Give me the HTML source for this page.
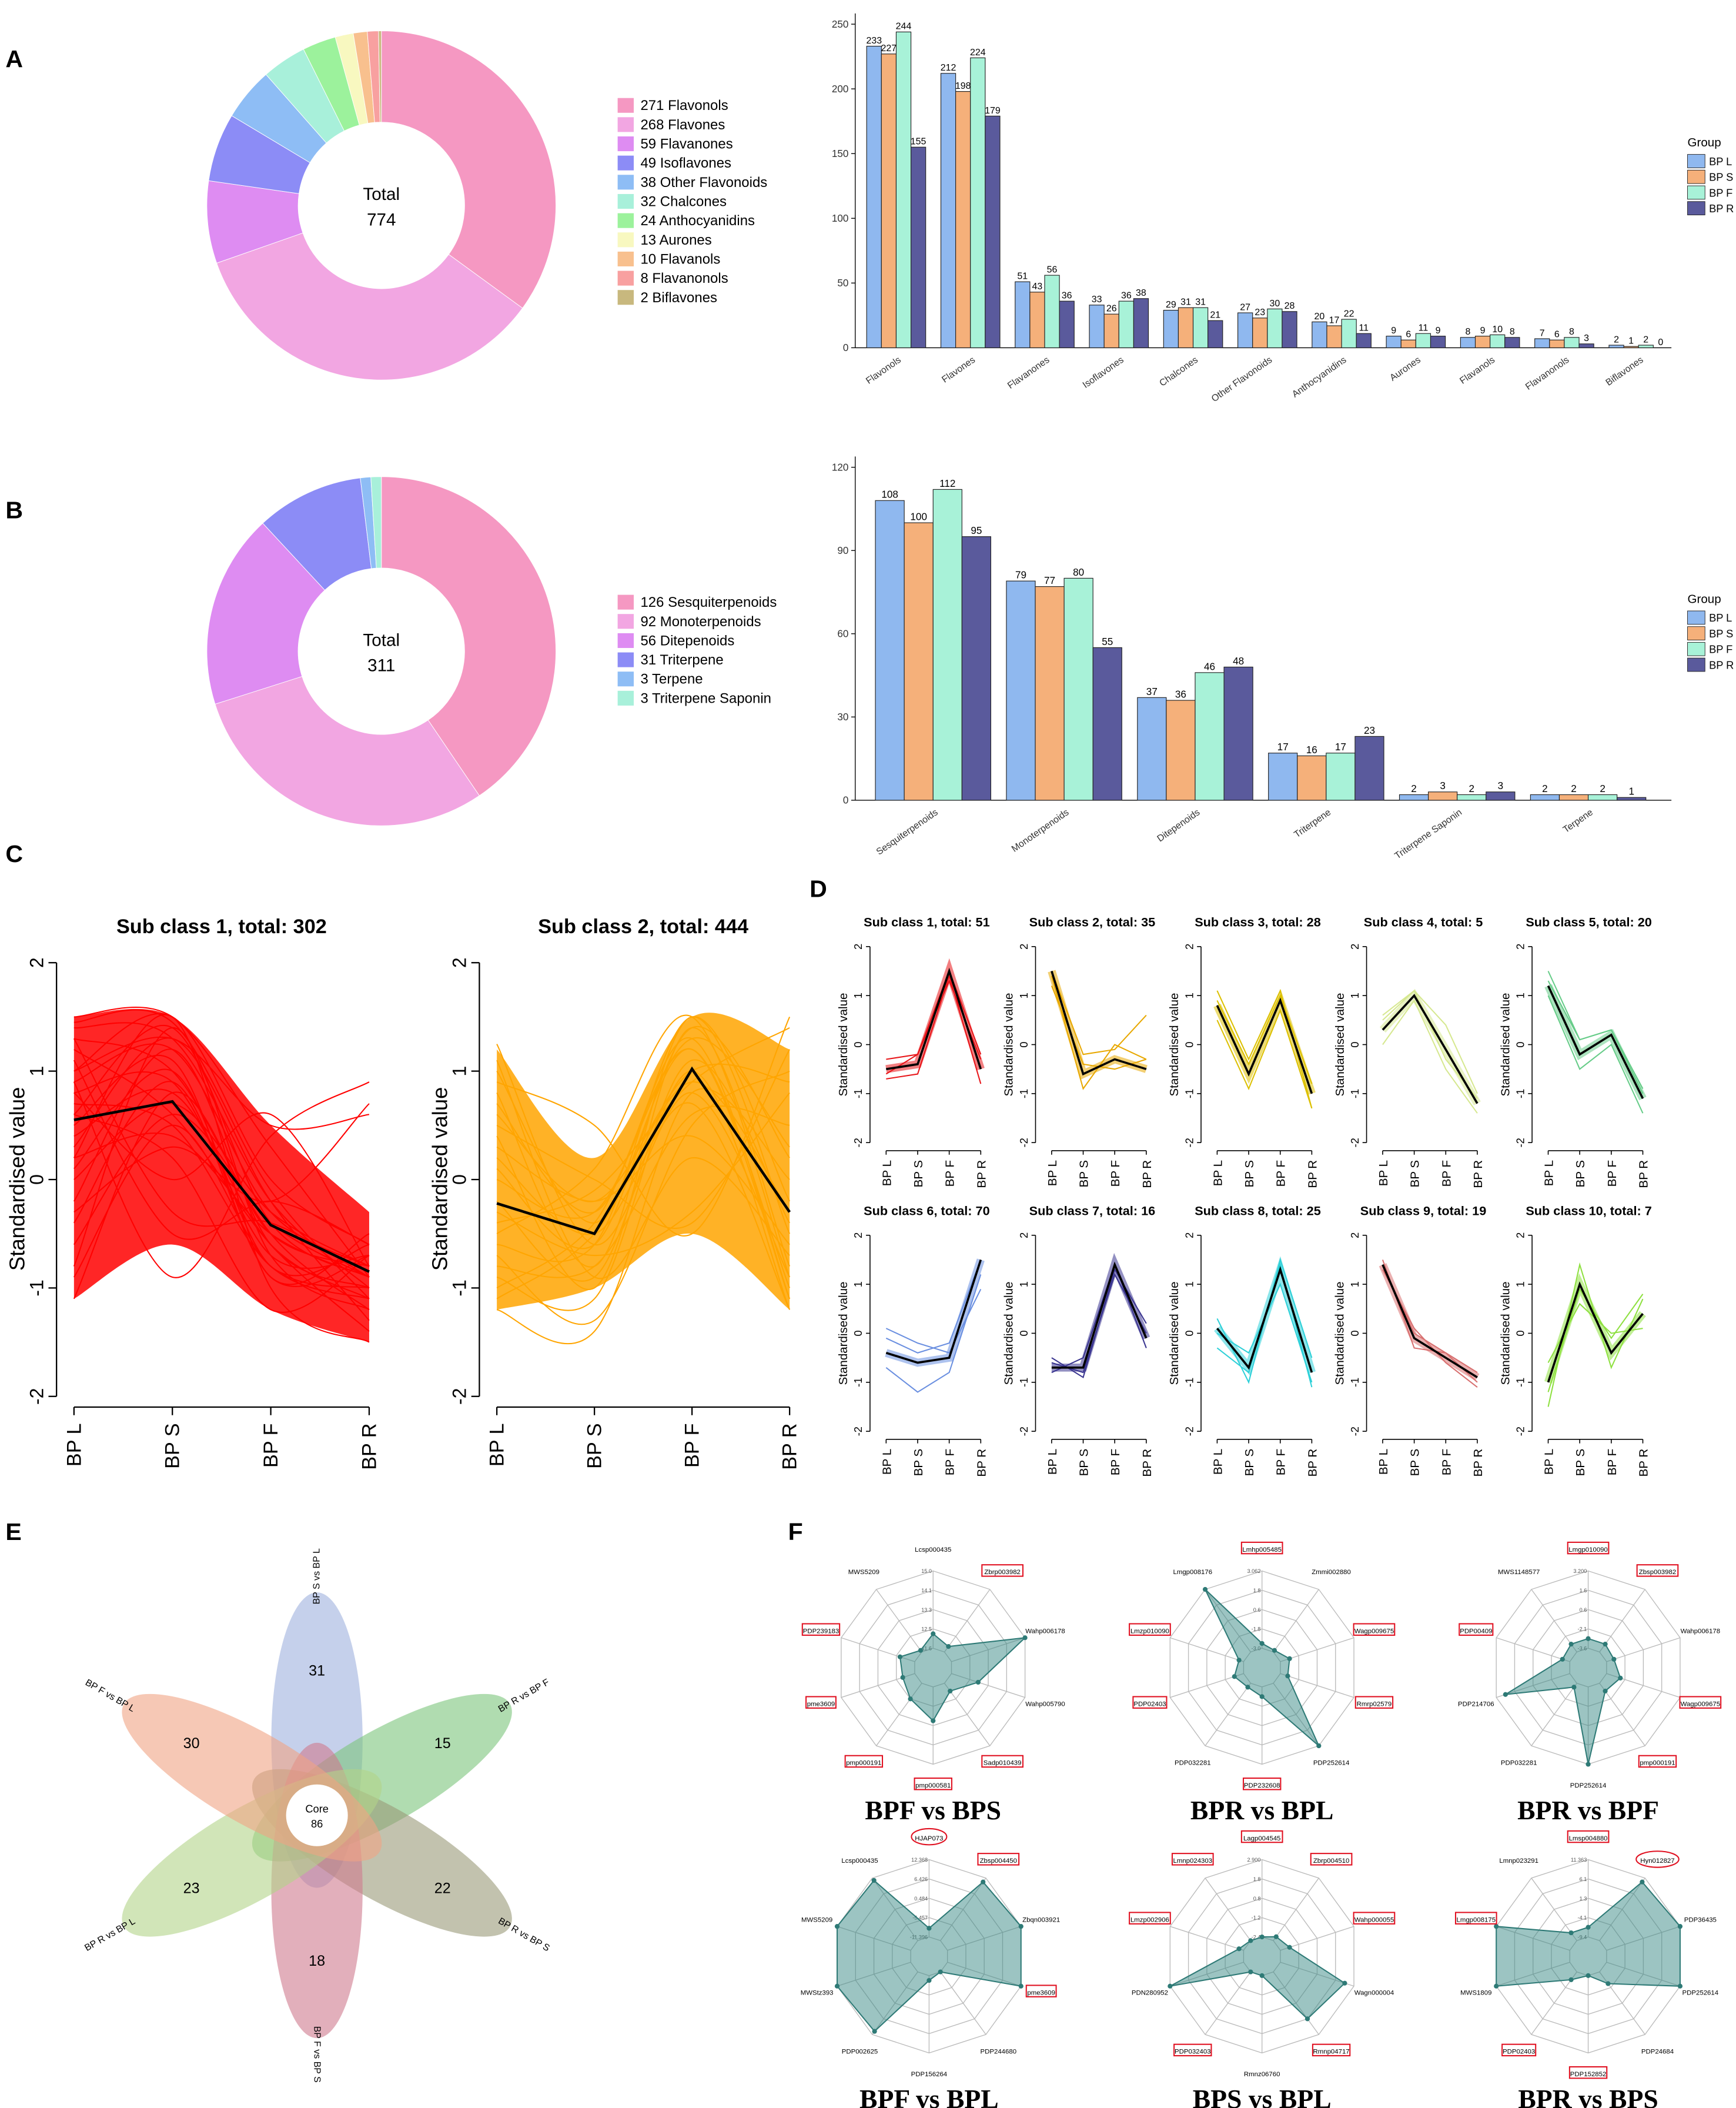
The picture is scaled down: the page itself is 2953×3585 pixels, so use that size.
<!DOCTYPE html>
<html><head><meta charset="utf-8"><style>
html,body{margin:0;padding:0;background:#fff}
svg{display:block;font-family:"Liberation Sans",sans-serif}
</style></head><body>
<svg id="fig" xmlns="http://www.w3.org/2000/svg" width="2953" height="3585" viewBox="0 0 1293 1570">
<rect x="0" y="0" width="1293" height="1570" fill="#fff"/>
<g font-weight="bold" font-size="18">
<text x="4" y="50">A</text>
<text x="4" y="386">B</text>
<text x="4" y="642">C</text>
<text x="603" y="668">D</text>
<text x="4" y="1147">E</text>
<text x="587" y="1147">F</text>
</g>
</svg>
<script>
// ---------- DATA ----------
const donutALabels=["Flavonols","Flavones","Flavanones","Isoflavones","Other Flavonoids","Chalcones","Anthocyanidins","Aurones","Flavanols","Flavanonols","Biflavones"];
const donutAValues=[271,268,59,49,38,32,24,13,10,8,2];
const donutBLabels=["Sesquiterpenoids","Monoterpenoids","Ditepenoids","Triterpene","Terpene","Triterpene Saponin"];
const donutBValues=[126,92,56,31,3,3];
const barACats=["Flavonols","Flavones","Flavanones","Isoflavones","Chalcones","Other Flavonoids","Anthocyanidins","Aurones","Flavanols","Flavanonols","Biflavones"];
const barAL=[233,212,51,33,29,27,20,9,8,7,2];
const barAS=[227,198,43,26,31,23,17,6,9,6,1];
const barAF=[244,224,56,36,31,30,22,11,10,8,2];
const barAR=[155,179,36,38,21,28,11,9,8,3,0];
const barATicks=[0,50,100,150,200,250];
const barBCats=["Sesquiterpenoids","Monoterpenoids","Ditepenoids","Triterpene","Triterpene Saponin","Terpene"];
const barBL=[108,79,37,17,2,2];
const barBS=[100,77,36,16,3,2];
const barBF=[112,80,46,17,2,2];
const barBR=[95,55,48,23,3,1];
const barBTicks=[0,30,60,90,120];
const groups=["BP L","BP S","BP F","BP R"];
const stdTicks=[2,1,0,-1,-2];
const c1Mean=[0.55,0.72,-0.42,-0.85];
const c1Upper=[1.5,1.5,0.5,-0.3];
const c1Lower=[-1.1,-0.6,-1.2,-1.5];
const c1Lines=[[1.5,1.5,0.3,-0.9],[1.4,1.3,-0.2,-1.0],[1.3,1.0,-0.5,-1.2],[1.2,0.6,-0.6,-1.4],[1.0,1.5,0.0,-0.6],[0.9,1.2,-0.3,-0.8],[0.8,0.9,-0.7,-0.7],[0.7,0.5,-0.8,-1.0],[0.6,1.4,-0.4,-0.9],[0.5,1.1,-0.9,-0.5],[0.4,0.8,-0.6,-1.1],[0.3,1.3,-0.2,-1.3],[0.2,0.4,-0.5,-0.9],[0.1,1.0,-0.8,-0.6],[0.0,0.7,-0.3,-0.8],[-0.2,1.2,-0.6,-1.0],[-0.4,0.9,-0.9,-0.7],[-0.6,0.6,-0.4,-0.9],[-0.8,1.4,-0.7,-1.2],[-1.1,0.8,-0.5,-0.8],[1.1,-0.5,-0.2,-0.6],[0.9,-0.9,0.4,0.9],[1.3,-0.3,-0.4,-0.9],[0.6,0.2,-1.2,-0.7],[0.8,0.0,0.6,-0.8],[1.0,1.3,0.5,0.6],[0.2,1.5,-1.0,-1.5],[-0.3,0.3,-0.2,0.7],[1.45,1.45,-0.1,-1.1],[-0.9,0.5,-0.8,-1.1]];
const c2Mean=[-0.22,-0.5,1.02,-0.3];
const c2Upper=[1.2,0.2,1.5,1.2];
const c2Lower=[-1.2,-1.0,-0.5,-1.2];
const c2Lines=[[1.25,-0.6,0.8,-0.9],[1.0,-0.4,1.2,-1.1],[0.8,-0.8,1.5,-0.5],[0.6,-0.2,1.0,0.9],[0.4,-1.0,1.4,-0.8],[0.2,-0.5,0.7,-1.2],[0.0,-0.3,1.3,0.3],[-0.2,-0.9,1.1,-0.4],[-0.4,-0.1,0.9,1.4],[-0.6,-0.6,1.5,-0.2],[-0.8,-0.8,0.6,0.5],[-1.0,-0.4,1.2,-1.0],[-1.2,-1.4,0.8,0.0],[0.9,0.5,-0.5,1.5],[0.5,0.0,-0.4,1.2],[-0.3,-0.7,-0.3,0.8],[-0.9,-1.1,1.0,-1.2],[0.3,-0.2,0.4,-0.6],[-0.5,0.1,1.5,-0.9],[1.1,-0.9,0.2,-0.7],[-0.7,-1.3,0.5,1.0],[0.1,-0.6,1.4,0.2],[-1.1,-0.5,0.9,-0.3],[0.7,-0.3,1.3,-1.1]];
const dTitles=["Sub class 1, total: 51","Sub class 2, total: 35","Sub class 3, total: 28","Sub class 4, total: 5","Sub class 5, total: 20","Sub class 6, total: 70","Sub class 7, total: 16","Sub class 8, total: 25","Sub class 9, total: 19","Sub class 10, total: 7"];
const dMeans=[[-0.5,-0.4,1.5,-0.5],[1.5,-0.6,-0.3,-0.5],[0.8,-0.6,0.9,-1.0],[0.3,1.0,-0.1,-1.2],[1.2,-0.2,0.2,-1.1],[-0.4,-0.6,-0.5,1.5],[-0.7,-0.7,1.4,-0.1],[0.1,-0.7,1.3,-0.8],[1.4,-0.1,-0.5,-0.9],[-1.0,1.0,-0.4,0.4]];
const dLinesA=[[-0.3,-0.2,1.5,-0.2],[1.4,-0.9,0.0,-0.3],[1.1,-0.3,1.1,-1.3],[0.6,1.1,0.4,-1.0],[1.5,0.1,0.3,-0.9],[-0.1,-0.4,-0.2,1.5],[-0.5,-0.9,1.3,0.2],[0.3,-1.0,1.5,-0.5],[1.5,-0.3,-0.4,-0.8],[-1.5,1.4,-0.7,0.7]];
const dLinesB=[[-0.7,-0.6,1.4,-0.8],[1.2,-0.4,-0.5,-0.3],[0.5,-0.9,0.7,-1.3],[0.0,0.9,-0.5,-1.4],[1.0,-0.5,0.0,-1.4],[-0.7,-1.2,-0.8,1.2],[-0.8,-0.5,1.4,-0.3],[0.0,-0.4,1.0,-1.0],[1.3,0.1,-0.6,-1.1],[-0.6,0.6,0.0,0.1]];
const dLinesC=[[-0.6,-0.2,1.3,-0.3],[1.5,-0.2,-0.1,0.6],[0.9,-0.4,1.0,-0.8],[0.5,1.1,-0.3,-1.1],[1.3,0.1,0.3,-1.0],[0.1,-0.2,-0.4,0.9],[-0.6,-0.8,1.2,0.0],[-0.3,-0.8,1.4,-1.1],[1.4,0.0,-0.4,-1.0],[-1.2,0.9,-0.1,0.8]];
const dColors=["#e8161a","#e8a800","#dcc000","#d6e890","#66cc88","#6a8fe0","#3a3590","#2ed0d8","#d87070","#8ee040"];
const vennCounts=[31,15,22,18,23,30];
const vennLabels=["BP S vs BP L","BP R vs BP F","BP R vs BP S","BP F vs BP S","BP R vs BP L","BP F vs BP L"];
const radarTitles=["BPF vs BPS","BPR vs BPL","BPR vs BPF","BPF vs BPL","BPS vs BPL","BPR vs BPS"];
const radarLabels=[
["Lcsp000435","Zbrp003982","Wahp006178","Wahp005790","Sadp010439","pmp000581","pmp000191","pme3609","PDP239183","MWS5209"],
["Lmhp005485","Zmmi002880","Wagp009675","Rmrp02579","PDP252614","PDP232608","PDP032281","PDP02403","Lmzp010090","Lmgp008176"],
["Lmgp010090","Zbsp003982","Wahp006178","Wagp009675","pmp000191","PDP252614","PDP032281","PDP214706","PDP00409","MWS1148577"],
["HJAP073","Zbsp004450","Zbqn003921","pme3609","PDP244680","PDP156264","PDP002625","MWStz393","MWS5209","Lcsp000435"],
["Lagp004545","Zbrp004510","Wahp000055","Wagn000004","Rmnp04717","Rmnz06760","PDP032403","PDN280952","Lmzp002906","Lmnp024303"],
["Lmsp004880","Hyn012827","PDP36435","PDP252614","PDP24684","PDP152852","PDP02403","MWS1809","Lmgp008175","Lmnp023291"]];
const radarBoxed=[[0,1,0,0,1,1,1,1,1,0],[1,0,1,1,0,1,0,1,1,0],[1,1,0,1,1,0,0,0,1,0],[2,1,0,1,0,0,0,0,0,0],[1,1,1,0,1,0,1,0,1,1],[1,2,0,0,0,1,1,0,1,0]];
const radarValues=[[0.35,0.27,1.0,0.49,0.3,0.55,0.4,0.33,0.36,0.22],[0.25,0.22,0.3,0.28,1.0,0.3,0.25,0.3,0.25,1.0],[0.3,0.3,0.28,0.35,0.3,1.0,0.25,0.9,0.28,0.3],[0.29,0.95,1.0,1.0,0.2,0.25,0.96,1.0,1.0,0.97],[0.2,0.25,0.3,0.9,0.8,0.2,0.2,1.0,0.25,0.2],[0.3,0.95,1.0,1.0,0.35,0.2,0.3,1.0,1.0,0.3]];
const radarRings=[["11.6","12.5","13.3","14.1","15.0"],["-3.0","-1.8","0.6","1.8","3.062"],["-3.6","-2.1","0.6","1.6","3.200"],["-11.396","-5.457","0.484","6.426","12.368"],["-2.4","-1.2","0.8","1.8","2.900"],["-9.4","-4.1","1.3","6.1","11.363"]];

// ---------- HELPERS ----------
const NS="http://www.w3.org/2000/svg";
const svg=document.getElementById('fig');
function mk(tag,attrs,parent){const e=document.createElementNS(NS,tag);for(const k in attrs)e.setAttribute(k,attrs[k]);(parent||svg).appendChild(e);return e;}
function txt(s,attrs,parent){const e=mk('text',attrs,parent);e.textContent=s;return e;}
function smooth(pts){let d="M"+pts[0][0]+","+pts[0][1];for(let i=0;i<pts.length-1;i++){const p0=pts[Math.max(i-1,0)],p1=pts[i],p2=pts[i+1],p3=pts[Math.min(i+2,pts.length-1)];const c1=[p1[0]+(p2[0]-p0[0])/6,p1[1]+(p2[1]-p0[1])/6],c2=[p2[0]-(p3[0]-p1[0])/6,p2[1]-(p3[1]-p1[1])/6];d+=" C"+c1[0]+","+c1[1]+" "+c2[0]+","+c2[1]+" "+p2[0]+","+p2[1];}return d;}

// ---------- DONUTS ----------
const donutAColors=["#f598c2","#f2a6e2","#de8cf2","#8c8cf6","#8ebdf5","#a8f0da","#9cf29c","#f8f8c0","#f8c08e","#f8a0a0","#c8b87e"];
const donutBColors=["#f598c2","#f2a6e2","#de8cf2","#8c8cf6","#8ebdf5","#a8f0da"];
function donut(cx,cy,vals,labels,colors,total,ly,name){
  const g=mk('g',{});
  
  
  const sum=vals.reduce((a,b)=>a+b,0);let a0=-Math.PI/2;const R=130,r=62;
  vals.forEach((v,i)=>{const a1=a0+v/sum*2*Math.PI;const lg=(a1-a0)>Math.PI?1:0;
    const d=`M${cx+R*Math.cos(a0)},${cy+R*Math.sin(a0)} A${R},${R} 0 ${lg} 1 ${cx+R*Math.cos(a1)},${cy+R*Math.sin(a1)} L${cx+r*Math.cos(a1)},${cy+r*Math.sin(a1)} A${r},${r} 0 ${lg} 0 ${cx+r*Math.cos(a0)},${cy+r*Math.sin(a0)} Z`;
    const p=mk('path',{d:d,fill:colors[i],stroke:"#fff","stroke-width":0.4},g);
    
    
    a0=a1;});
  const t1=txt("Total",{x:cx,y:cy-4,"font-size":13,"text-anchor":"middle"},g);
  
  
  const t2=txt(String(total),{x:cx,y:cy+15,"font-size":13,"text-anchor":"middle"},g);
  
  
  vals.forEach((v,i)=>{const y=ly+i*14.3;
    const sw=mk('rect',{x:460,y:y-5,width:12,height:11,fill:colors[i]},g);
    
    
    const lt=txt(v+" "+labels[i],{x:477,y:y+4,"font-size":10.5},g);
    
    });
}
donut(284,153,donutAValues,donutALabels,donutAColors,774,78,'donut-chart-a');
donut(284,485,donutBValues,donutBLabels,donutBColors,311,448,'donut-chart-b');

// ---------- BAR CHARTS ----------
const barColors=["#8fb8ef","#f5b07a","#a8f2d8","#5a5a9c"];
function barChart(o){
  const g=mk('g',{});
  
  
  const y=v=>o.y0-v*(o.y0-o.yTop)/o.max;
  const ax=mk('line',{x1:o.xa,y1:o.yTop-8,x2:o.xa,y2:o.y0,stroke:"#000","stroke-width":0.6},g);
  
  
  const xl=mk('line',{x1:o.xa,y1:o.y0,x2:o.xe,y2:o.y0,stroke:"#000","stroke-width":0.6},g);
  
  
  o.ticks.forEach(t=>{const tl=mk('line',{x1:o.xa-3,y1:y(t),x2:o.xa,y2:y(t),stroke:"#000","stroke-width":0.6},g);
    
    
    const tt=txt(String(t),{x:o.xa-5,y:y(t)+2.5,"font-size":7.5,"text-anchor":"end",fill:"#333"},g);
    
    });
  const series=[o.L,o.S,o.F,o.R];
  o.cats.forEach((c,i)=>{const cx=o.c0+i*o.step;
    series.forEach((s,k)=>{const bx=cx-2*o.bw+k*o.bw;
      const b=mk('rect',{x:bx,y:y(s[i]),width:o.bw,height:o.y0-y(s[i]),fill:barColors[k],stroke:"#222","stroke-width":0.5},g);
      
      
      const vl=txt(String(s[i]),{x:bx+o.bw/2,y:y(s[i])-2,"font-size":o.fs,"text-anchor":"middle"},g);
      
      });
    const cl=txt(c,{x:cx+4,y:o.y0+10,"font-size":7,"text-anchor":"end",fill:"#333",transform:`rotate(-35 ${cx+4} ${o.y0+10})`},g);
    
    });
  const lg=txt("Group",{x:1257,y:o.ly,"font-size":9},g);
  
  
  groups.forEach((gname,k)=>{const yy=o.ly+6+k*11.7;
    const r=mk('rect',{x:1257,y:yy,width:13,height:10,fill:barColors[k],stroke:"#222","stroke-width":0.4},g);
    
    
    const t=txt(gname,{x:1273,y:yy+8,"font-size":8},g);
    
    });
}
barChart({name:'bar-chart-a',cats:barACats,L:barAL,S:barAS,F:barAF,R:barAR,ticks:barATicks,max:250,y0:259,yTop:18,xa:637,xe:1245,c0:667.5,step:55.3,bw:11,fs:7,ly:109});
barChart({name:'bar-chart-b',cats:barBCats,L:barBL,S:barBS,F:barBF,R:barBR,ticks:barBTicks,max:120,y0:596,yTop:348,xa:637,xe:1245,c0:695,step:97.6,bw:21.5,fs:7.5,ly:449});

// ---------- PANEL C ----------
function cPlot(o){
  const g=mk('g',{});
  
  
  const X=i=>o.x0+i*o.dx, Y=v=>878.5-v*80.75;
  const up=o.upper.map((v,i)=>[X(i),Y(v)]), lo=o.lower.map((v,i)=>[X(i),Y(v)]).reverse();
  const band=mk('path',{d:smooth(up)+" L"+smooth(lo).slice(1)+" Z",fill:o.color,opacity:0.85},g);
  
  
  o.lines.forEach(l=>{const p=mk('path',{d:smooth(l.map((v,i)=>[X(i),Y(v)])),fill:"none",stroke:o.color,"stroke-width":0.9},g);
    
    });
  const m=mk('polyline',{points:o.mean.map((v,i)=>X(i)+","+Y(v)).join(" "),fill:"none",stroke:"#000","stroke-width":2},g);
  
  
  const ya=mk('line',{x1:o.xa,y1:Y(2),x2:o.xa,y2:Y(-2),stroke:"#000","stroke-width":1},g);
  
  
  stdTicks.forEach(t=>{const tk=mk('line',{x1:o.xa-6,y1:Y(t),x2:o.xa,y2:Y(t),stroke:"#000"},g);
    
    
    const tl=txt(String(t),{x:o.xa-10,y:Y(t),"font-size":14,"text-anchor":"middle",transform:`rotate(-90 ${o.xa-10} ${Y(t)})`},g);
    
    });
  const xa=mk('line',{x1:X(0),y1:1048,x2:X(3),y2:1048,stroke:"#000"},g);
  
  
  groups.forEach((gn,i)=>{const tk=mk('line',{x1:X(i),y1:1048,x2:X(i),y2:1054,stroke:"#000"},g);
    
    
    const t=txt(gn,{x:X(i)+5,y:1060,"font-size":15,"text-anchor":"end",transform:`rotate(-90 ${X(i)+5} 1060)`},g);
    
    });
  const yt=txt("Standardised value",{x:o.xa-24,y:878,"font-size":16,"text-anchor":"middle",transform:`rotate(-90 ${o.xa-24} 878)`},g);
  
  
  const tt=txt(o.title,{x:(X(0)+X(3))/2,y:695,"font-size":15,"font-weight":"bold","text-anchor":"middle"},g);
  
  
}
cPlot({name:'subclass-1-plot',x0:55,dx:73.3,xa:42,color:"#ff0000",upper:c1Upper,lower:c1Lower,lines:c1Lines,mean:c1Mean,title:"Sub class 1, total: 302"});
cPlot({name:'subclass-2-plot',x0:370,dx:72.7,xa:357,color:"#ffa500",upper:c2Upper,lower:c2Lower,lines:c2Lines,mean:c2Mean,title:"Sub class 2, total: 444"});

// ---------- PANEL D ----------
dTitles.forEach((title,k)=>{
  const row=Math.floor(k/5),col=k%5;
  const g=mk('g',{});
  
  
  const x0=660+col*123.3, base=row?993:778;
  const X=i=>x0+i*23.5, Y=v=>base-v*36.5;
  [dLinesA[k],dLinesB[k],dLinesC[k]].forEach(l=>{const p=mk('polyline',{points:l.map((v,i)=>X(i)+","+Y(v)).join(" "),fill:"none",stroke:dColors[k],"stroke-width":0.9},g);
    
    });
  const band=mk('polyline',{points:dMeans[k].map((v,i)=>X(i)+","+Y(v)).join(" "),fill:"none",stroke:dColors[k],"stroke-width":6,opacity:0.55},g);
  
  
  const m=mk('polyline',{points:dMeans[k].map((v,i)=>X(i)+","+Y(v)).join(" "),fill:"none",stroke:"#000","stroke-width":1.6},g);
  
  
  const xa0=x0-12;
  const ya=mk('line',{x1:xa0,y1:Y(2),x2:xa0,y2:Y(-2),stroke:"#000","stroke-width":0.7},g);
  
  
  stdTicks.forEach(t=>{const tk=mk('line',{x1:xa0-3,y1:Y(t),x2:xa0,y2:Y(t),stroke:"#000","stroke-width":0.7},g);
    
    
    const tl=txt(String(t),{x:xa0-6,y:Y(t),"font-size":8,"text-anchor":"middle",transform:`rotate(-90 ${xa0-6} ${Y(t)})`},g);
    
    });
  const xa=mk('line',{x1:X(0),y1:base+79,x2:X(3),y2:base+79,stroke:"#000","stroke-width":0.7},g);
  
  
  groups.forEach((gn,i)=>{const tk=mk('line',{x1:X(i),y1:base+79,x2:X(i),y2:base+82,stroke:"#000","stroke-width":0.7},g);
    
    
    const t=txt(gn,{x:X(i)+3.5,y:base+86,"font-size":9,"text-anchor":"end",transform:`rotate(-90 ${X(i)+3.5} ${base+86})`},g);
    
    });
  const yt=txt("Standardised value",{x:xa0-17,y:base,"font-size":9,"text-anchor":"middle",transform:`rotate(-90 ${xa0-17} ${base})`},g);
  
  
  const tt=txt(title,{x:X(1.5)-5,y:base-88,"font-size":9.5,"font-weight":"bold","text-anchor":"middle"},g);
  
  
});

// ---------- PANEL E (flower venn) ----------
const vennColors=["#9fb0de","#7cc47c","#9a9a78","#cf7a8e","#b2d488","#f0a484"];
(function(){
  const g=mk('g',{});
  
  
  const cx=236,cy=1352;
  vennCounts.forEach((n,i)=>{const ang=i*60;
    const e=mk('ellipse',{cx:cx,cy:cy-56,rx:34,ry:110,fill:vennColors[i],opacity:0.6,transform:`rotate(${ang} ${cx} ${cy})`},g);
    
    });
  vennCounts.forEach((n,i)=>{const a=(i*60-90)*Math.PI/180;
    const t=txt(String(n),{x:cx+108*Math.cos(a),y:cy+108*Math.sin(a)+4,"font-size":11,"text-anchor":"middle"},g);
    
    
    const lx=cx+178*Math.cos(a), ly=cy+178*Math.sin(a);
    let rot=i*60-90; if(rot>90) rot-=180;
    const lt=txt(vennLabels[i],{x:lx,y:ly+2,"font-size":7,"text-anchor":"middle",transform:`rotate(${rot} ${lx} ${ly})`},g);
    
    });
  const c=mk('circle',{cx:cx,cy:cy,r:23,fill:"#fff"},g);
  
  
  const t1=txt("Core",{x:cx,y:cy-2,"font-size":8,"text-anchor":"middle"},g);
  
  
  const t2=txt("86",{x:cx,y:cy+9,"font-size":8,"text-anchor":"middle"},g);
  
  
})();

// ---------- PANEL F (radars) ----------
const radarCenters=[[695,1242],[940,1242],[1183,1242],[692,1457],[940,1457],[1183,1457]];
radarTitles.forEach((title,k)=>{
  const g=mk('g',{});
  
  
  const [cx,cy]=radarCenters[k],R=72,n=10;
  const P=(i,f)=>{const a=-Math.PI/2+i*2*Math.PI/n;return [cx+R*f*Math.cos(a),cy+R*f*Math.sin(a)];};
  [0.2,0.4,0.6,0.8,1.0].forEach((f,j)=>{const pg=mk('polygon',{points:[...Array(n).keys()].map(i=>P(i,f).join(",")).join(" "),fill:"none",stroke:"#bbb","stroke-width":0.6},g);
    
    
    const rl=txt(radarRings[k][j],{x:cx-1,y:cy-R*f+1.5,"font-size":4,"text-anchor":"end",fill:"#555"},g);
    
    });
  for(let i=0;i<n;i++){const p=P(i,1),q=P(i,0.2);const s=mk('line',{x1:q[0],y1:q[1],x2:p[0],y2:p[1],stroke:"#bbb","stroke-width":0.6},g);
    
    }
  const vals=radarValues[k];
  const poly=mk('polygon',{points:vals.map((v,i)=>P(i,v).join(",")).join(" "),fill:"#3a8a86","fill-opacity":0.5,stroke:"#2e7a76","stroke-width":0.9},g);
  
  
  vals.forEach((v,i)=>{const p=P(i,v);const d=mk('circle',{cx:p[0],cy:p[1],r:1.8,fill:"#2e7a76"},g);
    
    });
  radarLabels[k].forEach((lab,i)=>{const p=P(i,1.22);const w=lab.length*2.75+3;
    if(radarBoxed[k][i]===1){const b=mk('rect',{x:p[0]-w/2,y:p[1]-5.5,width:w,height:8.5,fill:"none",stroke:"#e01020","stroke-width":0.9},g);
      
      }
    if(radarBoxed[k][i]===2){const b=mk('ellipse',{cx:p[0],cy:p[1]-1.2,rx:w/2+2,ry:6,fill:"none",stroke:"#e01020","stroke-width":0.9},g);
      
      }
    const t=txt(lab,{x:p[0],y:p[1]+1.5,"font-size":5,"text-anchor":"middle"},g);
    
    });
  const tt=txt(title,{x:cx,y:cy+113,"font-size":20,"font-weight":"bold","font-family":"Liberation Serif, serif","text-anchor":"middle"},g);
  
  
});
</script>
</body></html>
